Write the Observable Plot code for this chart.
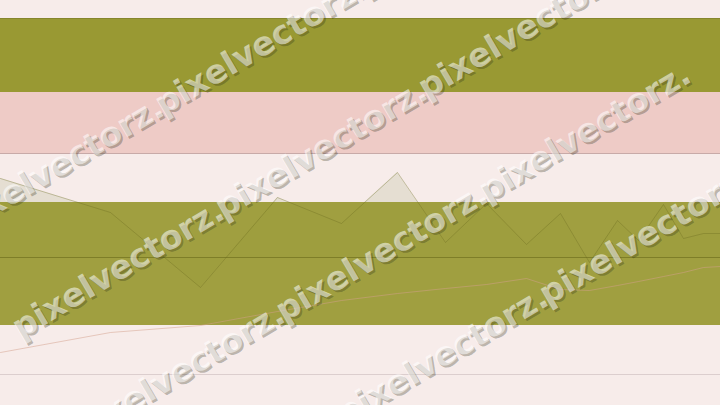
<!DOCTYPE html>
<html>
<head>
<meta charset="utf-8">
<script src="https://cdn.jsdelivr.net/npm/d3@7"></script>
<script src="https://cdn.jsdelivr.net/npm/@observablehq/plot@0.6"></script>
<style>
  html, body { margin: 0; padding: 0; background: #f7ecea; overflow: hidden; }
  #chart svg { display: block; }
</style>
</head>
<body>
<div id="chart"></div>
<script>
// ---- data ----
const t       = [0, 11, 20, 27.7, 34.1, 39.7, 44.5, 48.6, 52.6, 56, 58.9, 61.7, 63.8, 66.3, 68.3, 70.3, 72];
const seriesA = [45.4, 38.6, 23.6, 41.6, 36.4, 46.6, 32.6, 40.4, 32.2, 38.4, 28.6, 37, 33, 40.2, 33.4, 34.4, 34.4];
const seriesB = [10.6, 14.6, 16, 18.8, 21, 22.4, 23.4, 24.2, 25.4, 23.2, 23, 24, 24.8, 25.8, 26.6, 27.6, 27.8];
const oliveBandUpper = [62.6, 77.4];
const pinkBand       = [50.4, 62.6];
const oliveBandLower = [16, 40.6];
const baselineValue  = 29.6;
const lowerRule      = 6.2;
const watermarkText  = "pixelvectorz.";

const rows = t.map((d, i) => ({t: d, a: seriesA[i], b: seriesB[i]}));

// watermark: 4 diagonal rows of 3 repeated words (decoration)
const wm = [];
for (let j = -1; j <= 2; j++) {
  for (let i = -1; i <= 1; i++) {
    wm.push({
      x: 22.29 + i * 20.3 + j * 6.05,
      y: 37.22 + i * 24 - j * 20.66
    });
  }
}

const wmStyle = {x: "x", y: "y", text: () => watermarkText, rotate: -30.6,
  textAnchor: "start", lineAnchor: "bottom", fontSize: 33, fontWeight: "bold",
  fontFamily: "DejaVu Sans"};

const plot = Plot.plot({
  width: 720,
  height: 405,
  margin: 0,
  x: {domain: [0, 72], axis: null},
  y: {domain: [0, 81], axis: null},
  style: {background: "#f7ecea", overflow: "hidden"},
  marks: [
    Plot.rectY([oliveBandUpper], {y1: d => d[0], y2: d => d[1], fill: "#999933"}),
    Plot.ruleY([oliveBandUpper[1]], {stroke: "#86862c", strokeWidth: 1.2}),
    Plot.rectY([pinkBand], {y1: d => d[0], y2: d => d[1], fill: "#eecbc6"}),
    Plot.ruleY([pinkBand[0]], {stroke: "#c8aaa8", strokeWidth: 1}),
    Plot.areaY(rows, {x: "t", y1: () => baselineValue, y2: "a", fill: "#e5ded2"}),
    Plot.rectY([oliveBandLower], {y1: d => d[0], y2: d => d[1], fill: "#999933", fillOpacity: 0.93}),
    Plot.ruleY([baselineValue], {stroke: "#7e7e28", strokeWidth: 1}),
    Plot.line(rows, {x: "t", y: "a", stroke: "#6b6b20", strokeOpacity: 0.35, strokeWidth: 1}),
    Plot.line(rows, {x: "t", y: "b", stroke: "#d4a08c", strokeOpacity: 0.5, strokeWidth: 1}),
    Plot.ruleY([lowerRule], {stroke: "#dccece", strokeWidth: 1}),
    Plot.text(wm, {...wmStyle, dx: 2, dy: 2, fill: "#2a2a10", fillOpacity: 0.3}),
    Plot.text(wm, {...wmStyle, fill: "#ffffff", fillOpacity: 0.55})
  ]
});
document.getElementById("chart").appendChild(plot);
</script>
</body>
</html>
